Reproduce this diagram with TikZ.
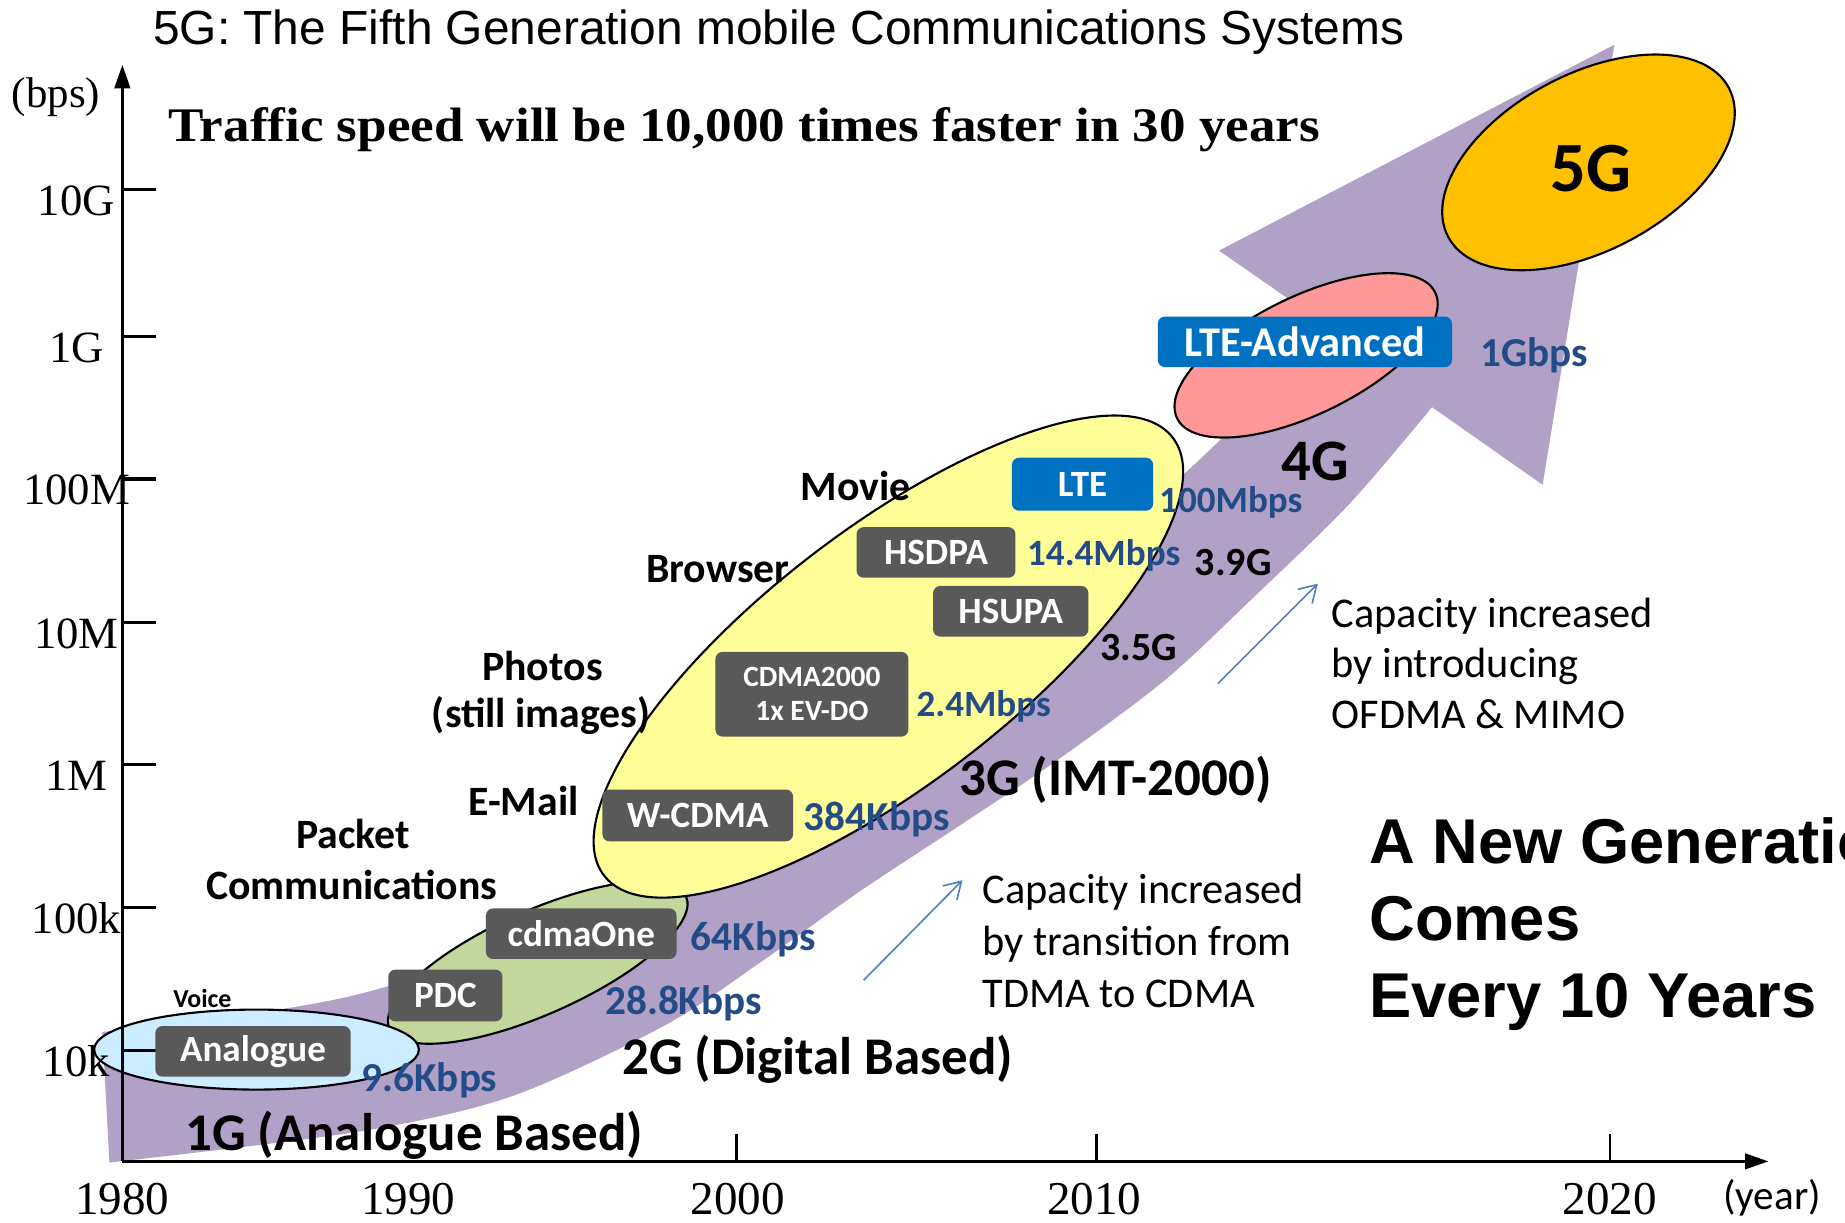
\documentclass[tikz,border=0pt]{standalone}
\usepackage{fontspec}
\usepackage{graphicx}
\setmainfont{Carlito}
\newfontfamily\serifface{Liberation Serif}
\newfontfamily\arialface{Liberation Sans}
\usetikzlibrary{arrows.meta}

\definecolor{bandc}{RGB}{177,161,199}
\definecolor{ellblue}{RGB}{204,236,255}
\definecolor{ellgreen}{RGB}{195,214,155}
\definecolor{ellyellow}{RGB}{255,255,153}
\definecolor{ellpink}{RGB}{255,153,153}
\definecolor{ellorange}{RGB}{255,192,0}
\definecolor{boxgray}{RGB}{89,89,89}
\definecolor{boxblue}{RGB}{0,112,192}
\definecolor{ratec}{RGB}{35,75,135}
\definecolor{noteline}{RGB}{79,129,189}

\newcommand\fsz[2]{\fontsize{#1}{#2}\selectfont}

\begin{document}
\begin{tikzpicture}[x=1pt,y=-1pt,
  axisline/.style={line width=2.8pt,black},
  genell/.style={draw=black,line width=1.8pt},
  techbox/.style={rounded corners=6pt,fill=boxgray,text=white,inner sep=0pt,
    font=\bfseries\fsz{31.5}{36}},
  ltebox/.style={techbox,fill=boxblue},
  rate/.style={text=ratec,inner sep=0pt,font=\bfseries\fsz{35}{40}},
  ratem/.style={rate,font=\bfseries\fsz{31.5}{36}},
  usage/.style={inner sep=0pt,font=\bfseries\fsz{35.5}{42}},
  genlabel/.style={inner sep=0pt,font=\bfseries\fsz{45}{50}},
  sublabel/.style={inner sep=0pt,font=\bfseries\fsz{34}{40}},
  note/.style={inner sep=0pt,anchor=base west,font=\fsz{36}{43}},
  slogan/.style={inner sep=0pt,anchor=base west,font=\arialface\bfseries\fsz{53.8}{64}},
  ticklabel/.style={inner sep=0pt,anchor=base,font=\serifface\fsz{38}{40}},
  yearlabel/.style={inner sep=0pt,anchor=base,font=\serifface\fsz{40}{44}},
  notearrow/.style={draw=noteline,line width=1.4pt,-{Straight Barb[length=14pt,width=17pt]}}
]
\useasboundingbox (0,0) rectangle (1568,1039);
\clip (0,0) rectangle (1568,1039);

% growth band with its arrow head
\fill[bandc]
  plot[smooth,tension=0.5] coordinates {(87,877) (243,857) (330,838) (450,795) (600,705)
      (760,590) (900,480) (1007,402) (1131,279)}
  -- (1036,213) -- (1372,38) -- (1311,412) -- (1217,346)
  -- plot[smooth,tension=0.5] coordinates {(1217,346) (1147,428) (1065,508) (990,578)
      (900,645) (818,700) (730,758) (646,818) (564,872) (434,932) (303,962) (93,988)}
  -- cycle;

% generation ellipses
\draw[genell,fill=ellgreen,rotate around={24:(457,818)}] (457,818) ellipse [x radius=138,y radius=44];
\draw[genell,fill=ellblue] (218,892) ellipse [x radius=138,y radius=34];
\draw[genell,fill=ellyellow,rotate around={37.6:(755,558)}] (755,558) ellipse [x radius=305,y radius=108];
\draw[genell,fill=ellpink,rotate around={26:(1110,302)}] (1110,302) ellipse [x radius=122,y radius=50];
\draw[genell,fill=ellorange,rotate around={28:(1350,138)}] (1350,138) ellipse [x radius=135,y radius=75];

% axes
\coordinate (org) at (104,987);
\coordinate (ytip) at (104,55);
\coordinate (xtip) at (1503,987);
\draw[axisline,-{Triangle[length=20pt,width=13pt]}] (org) -- (ytip);
\draw[axisline,-{Triangle[length=20pt,width=13pt]}] (org) -- (xtip);
\foreach \yy in {161,286,407,529,650,771,893}
  \draw[axisline] (104,\yy) -- (133,\yy);
\foreach \xx in {626,932,1368}
  \draw[line width=2pt] (\xx,987) -- (\xx,964);

% axis labels
\node[inner sep=0pt,anchor=base,font=\serifface\fsz{36.5}{40}] (bps) at (47.5,91) {(bps)};
\node[ticklabel] (l10G) at (65,183) {10G};
\node[ticklabel] (l1G) at (65,308) {1G};
\node[ticklabel] (l100M) at (65,429) {100M};
\node[ticklabel] (l10M) at (65,551) {10M};
\node[ticklabel] (l1M) at (65,672) {1M};
\node[ticklabel] (l100k) at (65,793) {100k};
\node[ticklabel] (l10k) at (65,915) {10k};
\node[yearlabel] (y1980) at (104,1032) {1980};
\node[yearlabel] (y1990) at (347,1032) {1990};
\node[yearlabel] (y2000) at (627,1032) {2000};
\node[yearlabel] (y2010) at (930,1032) {2010};
\node[yearlabel] (y2020) at (1368,1032) {2020};
\node[inner sep=0pt,anchor=base,font=\fsz{35}{40}] (year) at (1506,1028) {(year)};

% headings
\node[inner sep=0pt,anchor=base west,font=\arialface\fsz{40.7}{46}] (title) at (130,37.4)
  {5G: The Fifth Generation mobile Communications Systems};
\node[inner sep=0pt,anchor=base west,font=\serifface\bfseries\fsz{41}{46}] (traffic) at (143,120.5)
  {\scalebox{1.1}[1]{Traffic speed will be 10,000 times faster in 30 years}};

% technology boxes
\node[techbox,minimum width=166pt,minimum height=43pt] (analogue) at (215,893.5) {Analogue};
\node[techbox,minimum width=97pt,minimum height=44pt] (pdc) at (378.5,846) {PDC};
\node[techbox,minimum width=162pt,minimum height=43pt] (cdmaone) at (494,793.5) {cdmaOne};
\node[techbox,minimum width=162pt,minimum height=44pt] (wcdma) at (593,693) {W-CDMA};
\node[techbox,minimum width=164pt,minimum height=72pt,align=center,font=\bfseries\fsz{25}{29}]
  (evdo) at (690,590) {CDMA2000\\1x EV-DO};
\node[techbox,minimum width=132pt,minimum height=43pt] (hsupa) at (859,519.5) {HSUPA};
\node[techbox,minimum width=135pt,minimum height=43pt] (hsdpa) at (795.5,469.5) {HSDPA};
\node[ltebox,minimum width=120pt,minimum height=45pt] (lte) at (920,411.5) {LTE};
\node[ltebox,minimum width=250pt,minimum height=43pt,font=\bfseries\fsz{36}{40}] (ltea) at (1109,290.5) {LTE-Advanced};

% peak rates
\node[rate] (r96) at (365,918) {9.6Kbps};
\node[rate] (r288) at (581,853) {28.8Kbps};
\node[rate] (r64) at (640,798) {64Kbps};
\node[rate] (r384) at (745,696) {384Kbps};
\node[ratem] (r24) at (836,600) {2.4Mbps};
\node[ratem] (r144) at (938,472) {14.4Mbps};
\node[ratem] (r100) at (1046,427) {100Mbps};
\node[rate] (r1g) at (1304,302) {1Gbps};

% services
\node[inner sep=0pt,font=\bfseries\fsz{22}{26}] (voice) at (172,849) {Voice};
\node[usage] (packet) at (300,709) {Packet};
\node[usage] (comms) at (299,752) {Communications};
\node[usage] (email) at (445,681) {E-Mail};
\node[usage] (photos) at (461,566) {Photos};
\node[usage] (still) at (460,608) {(still images)};
\node[usage] (browser) at (610,484) {Browser};
\node[usage] (movie) at (727,413) {Movie};

% generations
\node[genlabel] (g1) at (352,965) {1G (Analogue Based)};
\node[genlabel] (g2) at (695,900) {2G (Digital Based)};
\node[genlabel] (g3) at (948,663) {3G (IMT-2000)};
\node[sublabel] (g35) at (968,550) {3.5G};
\node[sublabel] (g39) at (1048,478) {3.9G};
\node[inner sep=0pt,font=\bfseries\fsz{50}{56}] (g4) at (1118,392) {4G};
\node[inner sep=0pt,font=\bfseries\fsz{60}{64}] (g5) at (1352,143) {5G};

% capacity notes
\coordinate (n1s) at (734,833);
\coordinate (n1e) at (818,748);
\draw[notearrow] (n1s) -- (n1e);
\node[note] (cap1a) at (835,768) {Capacity increased};
\node[note] (cap1b) at (835,812) {by transition from};
\node[note] (cap1c) at (835,856) {TDMA to CDMA};
\coordinate (n2s) at (1035,581);
\coordinate (n2e) at (1120,496);
\draw[notearrow] (n2s) -- (n2e);
\node[note] (cap2a) at (1131.5,533) {Capacity increased};
\node[note] (cap2b) at (1131.5,576) {by introducing};
\node[note] (cap2c) at (1131.5,619) {OFDMA \& MIMO};

% slogan
\node[slogan] (sl1) at (1163.5,734) {A New Generation};
\node[slogan] (sl2) at (1163.5,799) {Comes};
\node[slogan] (sl3) at (1163.5,865) {Every 10 Years};
\end{tikzpicture}
\end{document}
